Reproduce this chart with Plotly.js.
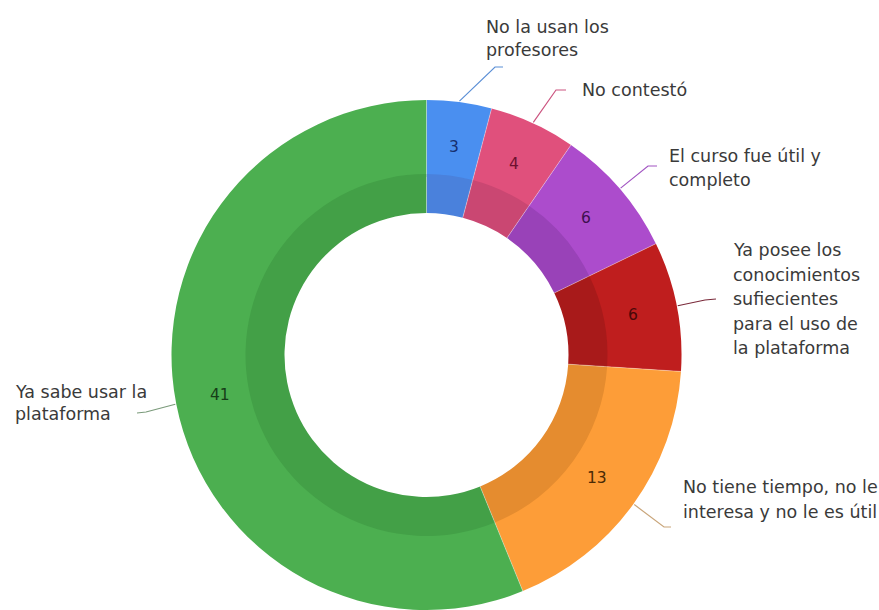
<!DOCTYPE html>
<html>
<head>
<meta charset="utf-8">
<script src="https://cdn.plot.ly/plotly-3.0.1.min.js"></script>
<style>html,body{margin:0;padding:0;overflow:hidden;background:#fff}</style>
</head>
<body>
<div id="chart" style="width:879px;height:610px"></div>
<script>
const categories = [
  "No la usan los profesores",
  "No contestó",
  "El curso fue útil y completo",
  "Ya posee los conocimientos sufiecientes para el uso de la plataforma",
  "No tiene tiempo, no le interesa y no le es útil",
  "Ya sabe usar la plataforma"
];
const labelLines = [
  ["No la usan los", "profesores"],
  ["No contestó"],
  ["El curso fue útil y", "completo"],
  ["Ya posee los", "conocimientos", "sufiecientes", "para el uso de", "la plataforma"],
  ["No tiene tiempo, no le", "interesa y no le es útil"],
  ["Ya sabe usar la", "plataforma"]
];
const values = [3, 4, 6, 6, 13, 41];

// styles
const colors     = ["#4a8ff0", "#e0507c", "#ac4ccc", "#bf1e1e", "#fd9d38", "#4caf50"];
const bandColors = ["#4a81dc", "#ca4772", "#9942b8", "#a81a1a", "#e58c2f", "#43a047"];
const textColors = ["#17306e", "#6e1030", "#3e1050", "#4a0808", "#4a2a05", "#163d18"];
const lineColors = ["#5b8fd6", "#cc5580", "#a255c2", "#7a2a3a", "#c9a57a", "#7a9a7a"];
// label layout (pixels): text left x, first line centre y, line gap, elbow, end
const labelPos = [
  {x: 484, y: 27,  gap: 23, elbow: [495, 67],  end: [503, 67]},
  {x: 580, y: 90,  gap: 23, elbow: [556, 90],  end: [566, 90]},
  {x: 667, y: 156, gap: 24, elbow: [648, 166], end: [657, 166]},
  {x: 731, y: 250, gap: 24.6, elbow: [705, 300], end: [716, 299]},
  {x: 681, y: 487, gap: 25, elbow: [664, 527], end: [671, 527]},
  {x: 13,  y: 392, gap: 22, elbow: [146, 412], end: [137, 413]}
];
const FONT = "DejaVu Sans, Verdana, sans-serif";

const W = 879, H = 610;
const cx = 426.5, cy = 355, R = 255, Rb = 181, Rh = 142, Rt = 210;

function dom(r) {
  return {
    x: [(cx - r) / W, (cx + r) / W],
    y: [(H - cy - r) / H, (H - cy + r) / H]
  };
}

const outer = {
  type: "pie",
  values: values,
  labels: categories,
  sort: false,
  direction: "clockwise",
  rotation: 0,
  hole: (Rb - 3) / R,
  domain: dom(R),
  marker: {colors: colors, line: {width: 0}},
  textinfo: "none",
  hoverinfo: "none",
  showlegend: false
};
const band = {
  type: "pie",
  values: values,
  labels: categories,
  sort: false,
  direction: "clockwise",
  rotation: 0,
  hole: Rh / Rb,
  domain: dom(Rb),
  marker: {colors: bandColors, line: {width: 0}},
  textinfo: "none",
  hoverinfo: "none",
  showlegend: false
};

const total = values.reduce((a, b) => a + b, 0);
const px = x => x / W, py = y => 1 - y / H;
const shapes = [], annotations = [];
let cum = 0;
values.forEach((v, i) => {
  const a0 = cum / total * 2 * Math.PI;
  const th = (cum + v / 2) / total * 2 * Math.PI;
  cum += v;
  // faint slice separator
  shapes.push({
    type: "line", xref: "paper", yref: "paper",
    x0: px(cx + Rh * Math.sin(a0)), y0: py(cy - Rh * Math.cos(a0)),
    x1: px(cx + R * Math.sin(a0)), y1: py(cy - R * Math.cos(a0)),
    line: {color: "rgba(255,255,255,0.35)", width: 1}
  });
  // value label
  annotations.push({
    xref: "paper", yref: "paper",
    x: px(cx + Rt * Math.sin(th)), y: py(cy - Rt * Math.cos(th)),
    xanchor: "center", yanchor: "middle",
    text: String(v), showarrow: false,
    font: {family: FONT, size: 15.5, color: textColors[i]}
  });
  // leader line
  const ex = cx + (R + 1) * Math.sin(th), ey = cy - (R + 1) * Math.cos(th);
  const p = labelPos[i];
  shapes.push({
    type: "path", xref: "paper", yref: "paper",
    path: `M ${px(ex)} ${py(ey)} L ${px(p.elbow[0])} ${py(p.elbow[1])} L ${px(p.end[0])} ${py(p.end[1])}`,
    line: {color: lineColors[i], width: 1.2}
  });
  labelLines[i].forEach((t, j) => {
    annotations.push({
      xref: "paper", yref: "paper",
      x: px(p.x), y: py(p.y + j * p.gap),
      xanchor: "left", yanchor: "middle",
      text: t, showarrow: false,
      font: {family: FONT, size: 17.5, color: "#3a3a3a"}
    });
  });
});

Plotly.newPlot("chart", [outer, band], {
  width: W, height: H,
  margin: {l: 0, r: 0, t: 0, b: 0},
  paper_bgcolor: "#fff",
  shapes: shapes,
  annotations: annotations
}, {displayModeBar: false, staticPlot: true});
</script>
</body>
</html>
